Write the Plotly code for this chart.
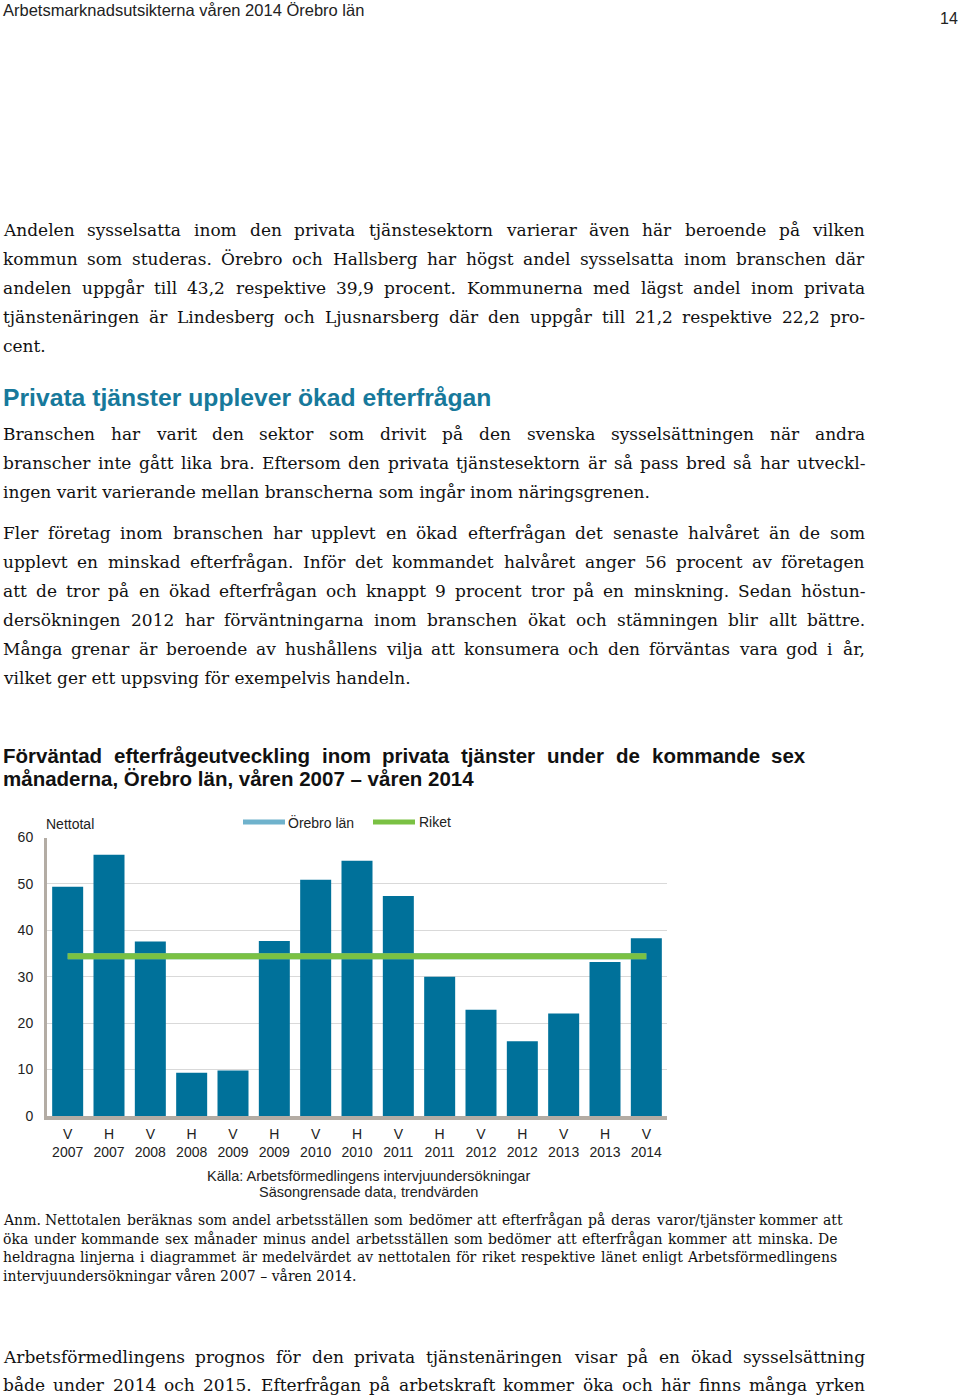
import plotly.graph_objects as go

W, H = 960, 1400

# ── data ──────────────────────────────────────────────────────────────
halvar = ["V", "H", "V", "H", "V", "H", "V", "H", "V", "H", "V", "H", "V", "H", "V"]
ar = ["2007", "2007", "2008", "2008", "2009", "2009", "2010", "2010",
      "2011", "2011", "2012", "2012", "2013", "2013", "2014"]
nettotal = [49.4, 56.3, 37.6, 9.3, 9.8, 37.7, 50.9, 55.0, 47.4, 30.0,
            22.9, 16.1, 22.1, 33.2, 38.3]
orebro_medel = 34.4
riket_medel = 34.4
y_ticks = [0, 10, 20, 30, 40, 50, 60]

kategorier = [f"{h}<br>{a}" for h, a in zip(halvar, ar)]

# ── page text ─────────────────────────────────────────────────────────
para1 = [
    "Andelen sysselsatta inom den privata tjänstesektorn varierar även här beroende på vilken",
    "kommun som studeras. Örebro och Hallsberg har högst andel sysselsatta inom branschen där",
    "andelen uppgår till 43,2 respektive 39,9 procent. Kommunerna med lägst andel inom privata",
    "tjänstenäringen är Lindesberg och Ljusnarsberg där den uppgår till 21,2 respektive 22,2 pro-",
    "cent.",
]
para2 = [
    "Branschen har varit den sektor som drivit på den svenska sysselsättningen när andra",
    "branscher inte gått lika bra. Eftersom den privata tjänstesektorn är så pass bred så har utveckl-",
    "ingen varit varierande mellan branscherna som ingår inom näringsgrenen.",
]
para3 = [
    "Fler företag inom branschen har upplevt en ökad efterfrågan det senaste halvåret än de som",
    "upplevt en minskad efterfrågan. Inför det kommandet halvåret anger 56 procent av företagen",
    "att de tror på en ökad efterfrågan och knappt 9 procent tror på en minskning. Sedan höstun-",
    "dersökningen 2012 har förväntningarna inom branschen ökat och stämningen blir allt bättre.",
    "Många grenar är beroende av hushållens vilja att konsumera och den förväntas vara god i år,",
    "vilket ger ett uppsving för exempelvis handeln.",
]
anm = [
    "Anm. Nettotalen beräknas som andel arbetsställen som bedömer att efterfrågan på deras varor/tjänster kommer att",
    "öka under kommande sex månader minus andel arbetsställen som bedömer att efterfrågan kommer att minska. De",
    "heldragna linjerna i diagrammet är medelvärdet av nettotalen för riket respektive länet enligt Arbetsförmedlingens",
    "intervjuundersökningar våren 2007 – våren 2014.",
]
para4 = [
    "Arbetsförmedlingens prognos för den privata tjänstenäringen visar på en ökad sysselsättning",
    "både under 2014 och 2015. Efterfrågan på arbetskraft kommer öka och här finns många yrken",
]
titel = [
    "Förväntad efterfrågeutveckling inom privata tjänster under de kommande sex",
    "månaderna, Örebro län, våren 2007 – våren 2014",
]

BAR = "#00719a"
GREEN = "#7ac143"
LIGHTBLUE = "#6fb2cc"
AXIS = "#b3aca4"
SERIF = "DejaVu Serif"
SANS = "Liberation Sans"

# rough advance widths (em) used only to spread words over a justified line
SERIF_W = dict(zip(
    "abcdefghijklmnopqrstuvwxyzäåöé",
    [.596, .640, .560, .640, .592, .370, .640, .644, .320, .310, .606, .320, .948,
     .644, .602, .640, .640, .478, .513, .402, .644, .565, .856, .564, .565, .527,
     .596, .596, .602, .592]))
SERIF_W.update(dict(zip("ABCDEFGHIJKLMNOPRSTUVÖÄ",
                        [.722, .735, .765, .802, .730, .694, .799, .872, .395, .401, .747,
                         .664, 1.024, .875, .820, .673, .753, .685, .667, .843, .722, .820, .722])))
SERIF_W.update({c: .636 for c in "0123456789"})
SERIF_W.update({".": .318, ",": .318, "-": .338, "/": .337, "–": .5, ":": .337})
SANSB_W = dict(zip("abcdefghijklmnopqrstuvwxyzäåö",
                   [.556, .611, .556, .611, .556, .333, .611, .611, .278, .278, .556, .278, .889,
                    .611, .611, .611, .611, .389, .556, .333, .611, .556, .778, .556, .556, .5,
                    .556, .556, .611]))
SANSB_W.update({"F": .611, "Ö": .778, ",": .278, "–": .556})
SANSB_W.update({c: .556 for c in "0123456789"})


def px(x, y):
    return x / W, 1 - y / H


annotations = []


def text(x, y, s, size, family=SANS, color="#111", bold=False, anchor="left"):
    xp, yp = px(x, y)
    if bold:
        s = f"<b>{s}</b>"
    annotations.append(dict(
        x=xp, y=yp, xref="paper", yref="paper", text=s, showarrow=False,
        xanchor=anchor, yanchor="middle", align=anchor, borderpad=0, borderwidth=0,
        font=dict(family=family, size=size, color=color),
    ))


def justified(x0, x1, y, line, size, family=SERIF, table=SERIF_W, bold=False, color="#111"):
    words = line.split(" ")
    widths = [sum(table.get(c, 0.6) for c in w) * size for w in words]
    gap = (x1 - x0 - sum(widths)) / (len(words) - 1)
    gap = max(gap, 0.3 * size)
    x = x0
    for i, (w, ww) in enumerate(zip(words, widths)):
        if i == len(words) - 1:
            text(x1, y, w, size, family, color, bold, anchor="right")
        else:
            text(x, y, w, size, family, color, bold)
        x += ww + gap


def paragraph(lines, y0, step, x1=865, size=17, last_full=False):
    for i, line in enumerate(lines):
        y = y0 + step * i
        if i == len(lines) - 1 and not last_full:
            text(3, y, line, size, SERIF)
        else:
            ends = x1[i] if isinstance(x1, list) else x1
            justified(3, ends, y, line, size)


text(3, 10, "Arbetsmarknadsutsikterna våren 2014 Örebro län", 16.5, color="#222")
text(958, 19, "14", 16, color="#222", anchor="right")

paragraph(para1, 230, 29)
text(3, 397, "Privata tjänster upplever ökad efterfrågan", 24.7, color="#17799b", bold=True)
paragraph(para2, 434, 29)
paragraph(para3, 533, 29)

justified(3, 806, 755, titel[0], 20.5, SANS, SANSB_W, bold=True)
text(3, 779, titel[1], 20.5, bold=True)

text(46, 824, "Nettotal", 14, color="#222")
text(288, 822, "Örebro län", 14, color="#222")
text(419, 822, "Riket", 14, color="#222")
text(368, 1176, "Källa: Arbetsförmedlingens intervjuundersökningar", 14.5, color="#222", anchor="center")
text(368, 1192, "Säsongrensade data, trendvärden", 14.5, color="#222", anchor="center")

paragraph(anm, 1220, 18.7, x1=[843, 838, 837], size=14)
paragraph(para4, 1357, 28, last_full=True)

# ── chart ─────────────────────────────────────────────────────────────
fig = go.Figure()
fig.add_trace(go.Bar(
    x=kategorier, y=nettotal, marker=dict(color=BAR, line=dict(width=0)),
    width=0.75, showlegend=False,
))
fig.add_trace(go.Scatter(
    x=[kategorier[0], kategorier[-1]], y=[orebro_medel, orebro_medel],
    mode="lines", name="Örebro län", line=dict(color=LIGHTBLUE, width=6), showlegend=False,
))
fig.add_trace(go.Scatter(
    x=[kategorier[0], kategorier[-1]], y=[riket_medel, riket_medel],
    mode="lines", name="Riket", line=dict(color=GREEN, width=6), showlegend=False,
))

fig.update_xaxes(
    domain=[47 / W, 667 / W], showgrid=False, showline=True, linecolor=AXIS,
    linewidth=4, ticks="", ticklabelstandoff=2, automargin=False,
    tickfont=dict(family=SANS, size=14, color="#222"),
)
fig.update_yaxes(
    domain=[1 - 1116 / H, 1 - 837.5 / H], range=[0, 60], tickvals=y_ticks,
    showgrid=True, gridcolor="#d9d9d9", gridwidth=1, zeroline=False, automargin=False,
    showline=True, linecolor=AXIS, linewidth=3, ticks="", ticklabelstandoff=8,
    tickfont=dict(family=SANS, size=14, color="#222"),
)

# legend drawn by hand so the line keys get the reference length
shapes = []
for (xa, xb), col in [((243, 285), LIGHTBLUE), ((373, 415), GREEN)]:
    a, yy = px(xa, 822)
    b, _ = px(xb, 822)
    shapes.append(dict(type="line", xref="paper", yref="paper", x0=a, x1=b, y0=yy, y1=yy,
                       line=dict(color=col, width=5)))

fig.update_layout(
    width=W, height=H, margin=dict(l=0, r=0, t=0, b=0),
    paper_bgcolor="white", plot_bgcolor="white", bargap=0.25,
    showlegend=False, annotations=annotations, shapes=shapes,
)

fig.write_html(
    "out.html",
    config={"displayModeBar": False},
    post_script="document.body.style.margin='0';document.body.style.overflow='hidden';",
)
